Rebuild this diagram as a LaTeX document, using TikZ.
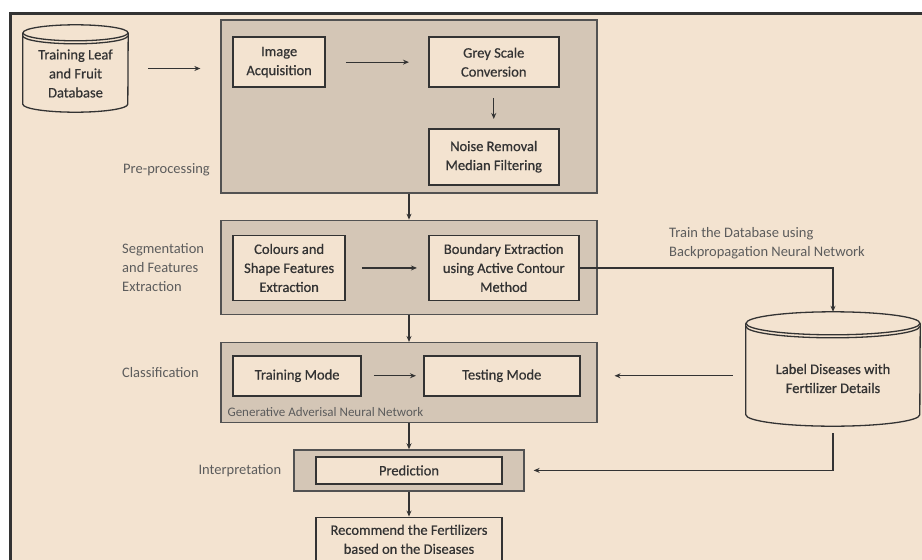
\documentclass[tikz,border=0pt]{standalone}
\usepackage{fontspec}
\setmainfont{Carlito}
\newfontface\boxface[FakeBold=0.6]{Carlito}
\usetikzlibrary{arrows.meta, positioning}
\definecolor{sand}{HTML}{F3E3D0}
\definecolor{panelgrey}{HTML}{D4C6B6}
\definecolor{ink}{HTML}{333333}
\definecolor{labelgrey}{HTML}{5C5C5C}
% cylinder outline round a named node: node, x radius, y radius
\newcommand{\dbshape}[3]{%
  \draw[dbline] ([yshift=-#3pt]#1.north) ellipse [x radius=#2, y radius=#3];
  \draw[dbline] ([yshift=-#3pt]#1.north west) -- ([yshift=#3pt]#1.south west)
    arc [start angle=180, end angle=0, x radius=#2, y radius=#3]
    -- ([yshift=-#3pt]#1.north east);
  \draw[dbline] ([yshift=-#3pt-3pt]#1.north west)
    arc [start angle=180, end angle=0, x radius=#2, y radius=#3];}

\begin{document}
\begin{tikzpicture}[x=1pt, y=-1pt, >={Stealth[length=6pt,width=5pt]},
    font=\fontsize{14.5}{19}\selectfont,
    panel/.style={draw=ink!85, line width=1.3pt, fill=panelgrey, inner sep=0pt},
    stepbox/.style={draw=ink, line width=1.6pt, fill=sand, text=ink, align=center, inner sep=0pt,
      font=\boxface\fontsize{14.5}{19}\selectfont},
    dbtext/.style={text=ink, align=center, inner sep=0pt, font=\boxface\fontsize{14.5}{19}\selectfont},
    lbl/.style={text=labelgrey, align=left, inner sep=0pt},
    dbline/.style={draw=ink, line width=1.3pt},
    flow/.style={->, draw=ink, line width=1.2pt}]
  \useasboundingbox (0,0) rectangle (922,560);
  \fill[white] (0,0) rectangle (922,560);
  \fill[sand] (10,13) rectangle (922,560);
  \draw[ink, line width=3pt] (10,560) -- (10,13) -- (922,13);

  % pre-processing
  \node[panel, minimum width=376pt, minimum height=173pt] (pre) at (409,106.5) {};
  \node[stepbox, minimum width=92pt, minimum height=50pt, below right=17pt and 12pt of pre.north west] (acq) {Image\\Acquisition};
  \node[stepbox, minimum width=130pt, minimum height=50pt, right=102pt of acq] (grey) {Grey Scale\\Conversion};
  \node[stepbox, minimum width=130pt, minimum height=56pt, below=40pt of grey] (noise) {Noise Removal\\Median Filtering};
  \node[lbl, anchor=east] (prelbl) at (210,170) {Pre-processing};

  % segmentation
  \node[panel, minimum width=376pt, minimum height=94pt, below=26pt of pre] (seg) {};
  \node[stepbox, minimum width=112pt, minimum height=65pt, below right=15pt and 12pt of seg.north west] (colours) {Colours and\\Shape Features\\Extraction};
  \node[stepbox, minimum width=150pt, minimum height=65pt, right=82pt of colours] (boundary) {Boundary Extraction\\using Active Contour\\Method};
  \node[lbl, anchor=west] (seglbl) at (122,268) {Segmentation\\and Features\\Extraction};

  % classification
  \node[panel, minimum width=376pt, minimum height=80pt, below=27pt of seg] (cls) {};
  \node[stepbox, minimum width=128pt, minimum height=40pt, below right=13pt and 12pt of cls.north west] (train) {Training Mode};
  \node[stepbox, minimum width=156pt, minimum height=40pt, right=61pt of train] (test) {Testing Mode};
  \node[lbl, anchor=west, font=\fontsize{13}{16}\selectfont] (ganlbl) at ([xshift=7pt, yshift=11pt]cls.south west) {Generative Adverisal Neural Network};
  \node[lbl, anchor=west] (clslbl) at (122,373) {Classification};

  % interpretation
  \node[panel, minimum width=230pt, minimum height=41pt, below=26pt of cls] (interp) {};
  \node[stepbox, minimum width=186pt, minimum height=27pt] (pred) at (interp) {Prediction};
  \node[lbl, left=12pt of interp] (interplbl) {Interpretation};
  \node[stepbox, minimum width=186pt, minimum height=44pt, below=25pt of interp] (recom) {Recommend the Fertilizers\\based on the Diseases};

  % databases
  \node[minimum width=105pt, minimum height=87pt, inner sep=0pt] (leafdb) at (75.5,68.5) {};
  \dbshape{leafdb}{52.5}{8}
  \node[dbtext] (leaftxt) at ([yshift=-5pt]leafdb.center) {Training Leaf\\and Fruit\\Database};
  \node[minimum width=174pt, minimum height=114pt, inner sep=0pt] (diseasedb) at (833,369) {};
  \dbshape{diseasedb}{87}{11.5}
  \node[dbtext] (diseasetxt) at ([yshift=-9.5pt]diseasedb.center) {Label Diseases with\\Fertilizer Details};
  \node[lbl, anchor=west] (trainlbl) at (669,243) {Train the Database using\\Backpropagation Neural Network};

  % connectors
  \draw[flow, shorten <=20pt, shorten >=20pt] (leafdb.east) -- (leafdb.east -| pre.west);
  \draw[flow, shorten <=20pt, shorten >=19pt] (acq) -- (grey);
  \draw[flow, shorten <=10pt, shorten >=9pt] (grey) -- (noise);
  \draw[flow] (pre) -- (seg);
  \draw[flow, shorten <=16pt, shorten >=11pt] (colours) -- (boundary);
  \draw[flow] (seg) -- (cls);
  \draw[flow, shorten <=12pt, shorten >=7pt] (train) -- (test);
  \draw[flow] (cls) -- (interp);
  \draw[flow] (interp) -- (recom);
  \draw[flow] (boundary.east) -| (diseasedb.north);
  \draw[flow, shorten <=13pt, shorten >=34pt] (diseasedb.west |- test.east) -- (test.east);
  \draw[flow, shorten <=7pt, shorten >=9pt] (diseasedb.south) |- (interp.east);
\end{tikzpicture}
\end{document}
